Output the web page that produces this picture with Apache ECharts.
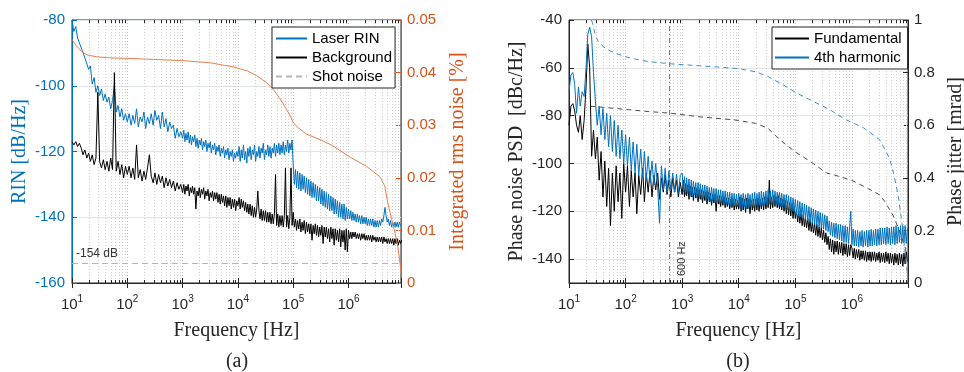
<!DOCTYPE html>
<html>
<head>
<meta charset="utf-8">
<script src="https://cdn.jsdelivr.net/npm/echarts@6/dist/echarts.min.js"></script>
<style>
  html, body { margin: 0; padding: 0; background: #fff; }
  #chart { width: 964px; height: 372px; }
</style>
</head>
<body>
<div id="chart"></div>
<script>
// ---- sampling grid: mantissas used inside each frequency decade ----
const MANT_30 = [1, 1.08, 1.17, 1.26, 1.36, 1.47, 1.58, 1.71, 1.85, 2, 2.15, 2.32, 2.51, 2.71, 2.93, 3.16, 3.41, 3.69, 3.98, 4.3,
  4.64, 5.01, 5.41, 5.84, 6.31, 6.81, 7.36, 7.94, 8.58, 9.26];
const MANT_50 = [1, 1.05, 1.1, 1.15, 1.2, 1.26, 1.32, 1.38, 1.45, 1.51, 1.58, 1.66, 1.74, 1.82, 1.91, 2, 2.09, 2.19, 2.29, 2.4,
  2.51, 2.63, 2.75, 2.88, 3.02, 3.16, 3.31, 3.47, 3.63, 3.8, 3.98, 4.17, 4.37, 4.57, 4.79, 5.01, 5.25, 5.5, 5.75, 6.03,
  6.31, 6.61, 6.92, 7.24, 7.59, 7.94, 8.32, 8.71, 9.12, 9.55];
const DECADES = [[1, MANT_30], [2, MANT_30], [3, MANT_50], [4, MANT_50], [5, MANT_50], [6, MANT_50]];

// ---- (a) relative intensity noise, dB/Hz ----
const LASER_RIN = [
  -80, -83.5, -82, -85.5, -85, -88.5, -88, -91.5, -91, -95, -94, -99.5, -97.5, -102, -100, -103, -101, -104.5, -102.5, -105,
  -103.5, -107, -104.5, -100, -108, -106, -109.5, -107, -110.5, -108.5,
  -111, -108.5, -112, -109, -111.5, -107, -112.5, -109.5, -111, -108, -113, -109.5, -111.5, -108.5, -112, -107.5, -110.5, -109, -113, -108,
  -112.5, -110, -114, -111, -113, -112, -116, -113, -115.5, -114,
  -116, -113.5, -117, -114.5, -116.5, -114, -117.5, -115, -118, -115.5, -117, -115, -118.5, -116, -119, -116.5, -118, -116, -119.5, -117,
  -118.5, -116.5, -120, -117.5, -119, -117, -120.5, -118, -119.5, -117.5, -121, -118.5, -120, -118, -121.5, -119, -120.5, -118.5, -122, -119.5,
  -121, -119, -122.5, -120, -121.5, -119.5, -123, -120.5, -122, -120,
  -121.5, -118.5, -123, -119.5, -122, -118, -122.5, -120, -123.5, -119, -121.5, -118.5, -122.5, -119.5, -121, -118, -123, -120, -121.5, -118.5,
  -122, -119, -120.5, -117.5, -122.5, -119.5, -121, -118, -121.5, -118.5, -122, -119, -120.5, -117.5, -121.5, -118, -120.5, -117.5, -121, -118,
  -120.5, -117, -121, -118, -120, -116.5, -120.5, -117.5, -119.5, -116.5,
  -124, -130, -125.5, -131, -126, -131.5, -126.5, -132, -127, -131.5, -127.5, -132.5, -128, -133, -128.5, -133.5, -129, -134, -129.5, -134,
  -130, -135, -130.5, -135, -131, -136, -131.5, -136.5, -132, -137, -132.5, -137.5, -133, -138, -133.5, -138, -134, -139, -134.5, -139,
  -135, -140, -135.5, -140, -136, -140.5, -136, -141, -137, -140.5,
  -137.5, -140.5, -138, -141, -138.5, -141, -139, -141.5, -139, -141.5, -139.5, -142, -139.5, -142, -140, -142, -140, -142.5, -140.5, -142.5,
  -140.5, -142.5, -140.5, -143, -141, -143, -141, -143, -141, -142.5, -140.5, -141.5, -139.5, -137, -139.5, -141.5, -140.5, -142.5, -141, -143,
  -141.5, -143, -141.5, -143, -141.5, -143, -141.5, -142.5, -142, -143
];
const BACKGROUND = [
  -117, -118, -117, -118.5, -117.5, -119, -121, -119.5, -122, -120.5, -123, -121, -124, -122, -102, -123, -125, -122.5, -125.5, -123,
  -126, -122, -125.5, -96, -126, -123, -127, -124, -128, -124.5,
  -127, -124.5, -128, -125, -128.5, -118, -128, -125.5, -129, -126, -128.5, -125, -121, -127.5, -129.5, -126.5, -130, -127, -129.5, -127.5,
  -131, -128, -130.5, -128.5, -131, -129, -132, -129.5, -131.5, -130,
  -132.5, -130, -133, -130.5, -132, -130, -133.5, -131, -132.5, -130.5, -133, -131, -137.5, -132, -133.5, -131, -134, -131.5, -133, -131,
  -134.5, -132, -133.5, -131.5, -135, -132.5, -134, -132, -135, -132.5, -134.5, -132.5, -135.5, -133, -136, -133, -135.5, -133.5, -136.5, -133.5,
  -137, -134, -136.5, -134, -137.5, -134.5, -137, -134.5, -138, -135,
  -136.5, -134, -137.5, -134.5, -137, -135, -138, -135.5, -138.5, -136, -139, -136, -139.5, -136.5, -140, -137, -140, -137.5, -132, -138,
  -140.5, -137.5, -141, -138, -141, -138, -141.5, -138.5, -141.5, -138.5, -142, -139, -142, -139, -127, -142.5, -139, -143, -139.5, -142.5,
  -139.5, -143, -139.5, -125, -143, -139.5, -143.5, -140, -125, -142.5,
  -138.5, -143, -140.5, -144, -141, -143.5, -140.5, -144.5, -141.5, -144, -141, -145, -141.5, -144.5, -142, -145, -142, -147, -142.5, -145,
  -142, -145.5, -142.5, -146, -143, -145.5, -142.5, -148, -143, -146, -143, -146.5, -143.5, -147.5, -143, -146.5, -143.5, -148.5, -143.5, -147,
  -144, -147.5, -143.5, -149, -144, -147.5, -144, -150, -143.5, -150.5,
  -144, -146.5, -144.5, -146.5, -144.5, -146, -144.5, -146.5, -145, -146.5, -145, -147, -145, -146.5, -145, -147, -145.5, -147, -145.5, -147,
  -145.5, -147.5, -145.5, -147, -146, -147.5, -146, -147.5, -146, -147.5, -146, -148, -146, -147.5, -146.5, -148, -146.5, -148, -146.5, -148,
  -146.5, -148.5, -146.5, -148, -146.5, -148.5, -147, -148, -147, -148
];
const SHOT_NOISE_DB = -154;
// integrated rms noise, %
const RMS_FREQ = [10, 11, 12, 13.5, 15, 17, 20, 28, 50, 100, 300, 900, 3000, 8200, 1.5e4, 2.2e4, 3.3e4, 4.5e4, 5.8e4, 7.6e4,
  9e4, 1e5, 1.2e5, 1.75e5, 3.3e5, 5.2e5, 1e6, 2.1e6, 3.7e6, 4.5e6, 5.2e6, 6e6, 6.9e6, 7.8e6, 8.5e6, 8.9e6];
const RMS_NOISE = [0.0463, 0.0457, 0.0451, 0.0445, 0.044, 0.0436, 0.0433, 0.043, 0.0428, 0.0427, 0.0425, 0.0423, 0.0419, 0.0411,
  0.0403, 0.0394, 0.0381, 0.0366, 0.035, 0.033, 0.0316, 0.0305, 0.0296, 0.0283, 0.0271, 0.0261, 0.0241, 0.0222, 0.0202, 0.0185,
  0.015, 0.0122, 0.0097, 0.0068, 0.004, 0.002];

// ---- (b) phase noise PSD, dBc/Hz ----
const FUNDAMENTAL = [
  -84, -76, -75, -78, -84, -87, -80, -90, -82, -68, -50, -60, -97, -86, -98, -89, -107, -95, -114, -99,
  -118, -102, -126, -104, -120, -101, -116, -104, -123, -100,
  -112, -101, -118, -103, -114, -104, -121, -105, -113, -102, -116, -104, -112, -103, -114, -105, -111, -104, -115, -106,
  -112, -105, -113, -107, -114, -106, -112, -107, -114, -108,
  -113, -107, -114, -108.5, -113.5, -109, -115, -109.5, -114, -110, -115.5, -110, -114.5, -110.5, -116, -111, -115, -111, -116.5, -111.5,
  -115.5, -112, -117, -112, -116, -112.5, -117.5, -113, -116.5, -113, -120, -113.5, -117, -113.5, -118, -114, -117.5, -114, -118.5, -114.5,
  -118, -114.5, -119, -115, -118.5, -115, -119.5, -115, -119, -115.5,
  -119, -114, -120, -114.5, -119.5, -115, -120.5, -114.5, -119, -115, -121, -115.5, -119.5, -115, -120, -115, -119.5, -114.5, -120, -115,
  -119, -114.5, -119.5, -114, -119, -114.5, -118.5, -107, -119, -114, -118.5, -113.5, -118, -114, -118.5, -113.5, -119, -114.5, -119.5, -115,
  -120, -115.5, -121, -116, -121.5, -116.5, -122, -117, -123, -118,
  -123, -119.5, -124.5, -120, -125, -121, -126, -121.5, -126.5, -122.5, -127, -123, -128, -123.5, -128.5, -124.5, -129, -125, -130, -125.5,
  -130.5, -126.5, -131, -127, -132, -128, -133, -129, -134, -130.5, -136, -131.5, -137, -132, -138, -132.5, -137, -132.5, -138, -133,
  -137.5, -133, -138.5, -133.5, -138, -133.5, -139, -134, -138.5, -134,
  -135.5, -139.5, -135.5, -140, -136, -139.5, -136, -140.5, -136.5, -140, -136.5, -140.5, -136.5, -141, -137, -140.5, -137, -141, -137, -140.5,
  -137, -141, -137.5, -140.5, -137, -141.5, -137.5, -141, -137.5, -141.5, -137, -141, -137.5, -142, -137.5, -141.5, -138, -142.5, -137.5, -141.5,
  -138, -142.5, -137.5, -142, -138, -143, -137.5, -142, -137, -141
];
const HARMONIC_4 = [
  -70, -63, -62, -67, -79, -68, -76, -70, -72, -60, -46, -43, -47, -62, -74, -84, -76, -88, -77, -90,
  -79, -93, -80, -95, -82, -97, -84, -98, -86, -100,
  -88, -101, -89, -103, -91, -104, -92, -105, -94, -106, -95, -107, -97, -108, -99, -109, -100, -110, -125, -101,
  -111, -102, -112, -103, -111, -104, -112, -104.5, -112.5, -105,
  -104, -112, -105.5, -113, -106, -112.5, -106.5, -113.5, -107, -114, -107.5, -113, -108, -114.5, -108, -114, -108.5, -115, -109, -114.5,
  -109, -115.5, -109.5, -115, -110, -116, -110, -115.5, -110.5, -116.5, -110.5, -116, -111, -117, -111, -116.5, -111.5, -117, -111.5, -117.5,
  -112, -117, -112, -118, -112.5, -117.5, -112.5, -118, -113, -118,
  -112.5, -118.5, -113, -119, -112.5, -118, -113, -119, -112.5, -118.5, -113, -118, -112.5, -118.5, -112, -118, -112.5, -117.5, -112, -118,
  -111.5, -117.5, -112, -117, -111.5, -117.5, -111, -117, -111.5, -117, -111, -117.5, -111.5, -117, -112, -117.5, -112, -118, -112.5, -118,
  -113, -118.5, -113, -119, -113.5, -119.5, -114, -120, -114.5, -120,
  -115, -121.5, -115.5, -122, -116, -122.5, -116.5, -123, -117, -123.5, -117.5, -124, -118, -124.5, -118.5, -125, -119, -125.5, -119.5, -126,
  -120, -126.5, -120.5, -127, -121, -127.5, -121.5, -128, -122, -128.5, -124, -130, -124.5, -130.5, -125, -131, -125, -131.5, -125.5, -132,
  -125.5, -132.5, -126, -133, -126, -133, -126.5, -133.5, -126.5, -120,
  -134, -127.5, -134.5, -128, -134.5, -128, -135, -128.5, -134.5, -128, -135, -128.5, -134.5, -128, -135, -128, -134.5, -127.5, -134.5, -128,
  -134, -127.5, -134.5, -127.5, -134, -127, -134, -127, -133.5, -127, -134, -126.5, -133.5, -127, -134, -126.5, -133.5, -126.5, -134, -126,
  -133.5, -126.5, -133, -126, -133.5, -126, -133, -126, -133.5, -127
];
const MARKER_HZ = 600;
// integrated phase jitter, mrad
const JIT_FUND_FREQ = [24, 40, 100, 250, 600, 2000, 8500, 2e4, 3.3e4, 5e4, 1e5, 1.7e5, 3.6e5, 5e5, 1e6, 1.9e6, 3.1e6, 3.8e6, 5.3e6,
  6.6e6, 8.8e6, 9.8e6];
const JIT_FUND = [0.672, 0.668, 0.66, 0.652, 0.646, 0.632, 0.62, 0.607, 0.588, 0.55, 0.498, 0.467, 0.418, 0.41, 0.39, 0.36, 0.335,
  0.31, 0.258, 0.21, 0.133, 0.07];
const JIT_HARM_FREQ = [25, 27, 29, 33, 40, 49, 70, 97, 150, 250, 650, 2000, 5000, 1e4, 2e4, 3.3e4, 5.4e4, 1.06e5, 2.1e5, 4e5,
  8e5, 1.6e6, 3.1e6, 4.6e6, 5.5e6, 6.6e6, 7.8e6, 9e6, 9.8e6];
const JIT_HARM = [1.0, 0.975, 0.945, 0.917, 0.9, 0.886, 0.872, 0.861, 0.851, 0.842, 0.833, 0.826, 0.82, 0.815, 0.803, 0.785, 0.76,
  0.722, 0.69, 0.66, 0.62, 0.59, 0.545, 0.475, 0.415, 0.33, 0.215, 0.085, 0.02];

// ---- styling ----
const SANS = "'Liberation Sans', Arial, Helvetica, sans-serif";
const SERIF = "'Liberation Serif', 'Times New Roman', serif";
const INK = '#262626';
const BLUE = '#0072BD';
const ORANGE = '#D95319';
const X_MAX_A = 8.9e6;
const X_MAX_B = 9.8e6;

const FREQ = DECADES.flatMap(([e, mant]) => mant.map(m => +(m * Math.pow(10, e)).toPrecision(4)));
const onGrid = vals => FREQ.map((f, i) => [f, vals[i]]);
const zip = (xs, ys) => xs.map((x, i) => [x, ys[i]]);

function minorFreqs(max) {
  const out = [];
  for (let e = 1; e <= 6; e++) for (let m = 2; m <= 9; m++) { const f = m * Math.pow(10, e); if (f < max) out.push(f); }
  return out;
}

function logLabel(v) {
  const e = Math.log10(v), r = Math.round(e);
  return Math.abs(e - r) < 1e-6 ? '{b|10}{e|' + r + '}' : '';
}

// dotted minor grid plus short inward ticks top and bottom
function minorGridItem(params, api) {
  const cs = params.coordSys;
  const x = Math.round(api.coord([api.value(0), api.value(1)])[0]) + 0.5;
  if (x <= cs.x + 1 || x >= cs.x + cs.width - 1) return null;
  const y0 = cs.y, y1 = cs.y + cs.height;
  return {
    type: 'group',
    children: [
      { type: 'line', shape: { x1: x, y1: y0, x2: x, y2: y1 }, style: { stroke: '#cfcfcf', lineWidth: 1, lineDash: [1, 2] } },
      { type: 'line', shape: { x1: x, y1: y1, x2: x, y2: y1 - 3 }, style: { stroke: INK, lineWidth: 1 } },
      { type: 'line', shape: { x1: x, y1: y0, x2: x, y2: y0 + 3 }, style: { stroke: INK, lineWidth: 1 } }
    ]
  };
}

function xAxisPair(gridIndex, max) {
  return [
    {
      type: 'log', logBase: 10, gridIndex, min: 10, max, position: 'bottom',
      axisLine: { onZero: false, lineStyle: { color: INK } },
      axisTick: { inside: true, length: 5, lineStyle: { color: INK } },
      axisLabel: {
        formatter: logLabel, margin: 11, color: INK,
        rich: {
          b: { fontSize: 15, lineHeight: 22, fontFamily: SANS, color: INK },
          e: { fontSize: 10, lineHeight: 11, verticalAlign: 'top', fontFamily: SANS, color: INK }
        }
      },
      splitLine: { show: true, lineStyle: { color: '#c2c2c2', type: [1, 2] } },
      name: 'Frequency [Hz]', nameLocation: 'middle', nameGap: 38,
      nameTextStyle: { fontFamily: SERIF, fontSize: 20, color: INK }
    },
    {
      type: 'log', logBase: 10, gridIndex, min: 10, max, position: 'top',
      axisLine: { show: false },
      axisTick: { inside: true, length: 5, lineStyle: { color: INK } },
      axisLabel: { show: false }, splitLine: { show: false }
    }
  ];
}

function yAxis(opts) {
  const { gridIndex, position, color, name, nameGap, gridColor } = opts;
  return Object.assign({
    type: 'value', gridIndex, position,
    axisLine: { show: true, lineStyle: { color } },
    axisTick: { show: true, inside: true, length: 5, lineStyle: { color } },
    axisLabel: { color, fontSize: 15, fontFamily: SANS, margin: 7 },
    splitLine: { show: !!gridColor, lineStyle: { color: gridColor || '#eee' } },
    name, nameLocation: 'middle', nameGap,
    nameTextStyle: { color, fontFamily: SERIF, fontSize: 20 }
  }, opts.extra || {});
}

const lineSeries = (name, data, color, extra) => Object.assign({
  name, type: 'line', data, symbol: 'none', showSymbol: false, sampling: null,
  lineStyle: { color, width: 1 }, itemStyle: { color }, emphasis: { disabled: true }, silent: true
}, extra || {});

const legendBase = {
  orient: 'vertical', itemHeight: 14, itemGap: 4,
  backgroundColor: '#fff', borderColor: INK, borderWidth: 1, selectedMode: false,
  itemStyle: { opacity: 0 },
  textStyle: { fontSize: 15, fontFamily: SANS, color: '#000' }
};

const chart = echarts.init(document.getElementById('chart'), null, { renderer: 'canvas' });

chart.setOption({
  animation: false,
  backgroundColor: '#ffffff',
  textStyle: { fontFamily: SANS },
  grid: [
    { left: 72, top: 20, width: 329, height: 263, show: true, borderColor: INK, borderWidth: 1,
      containLabel: false, outerBoundsMode: 'none' },
    { left: 569, top: 20, width: 339, height: 263, show: true, borderColor: INK, borderWidth: 1,
      containLabel: false, outerBoundsMode: 'none' }
  ],
  xAxis: [...xAxisPair(0, X_MAX_A), ...xAxisPair(1, X_MAX_B)],
  yAxis: [
    yAxis({ gridIndex: 0, position: 'left', color: BLUE, name: 'RIN [dB/Hz]', nameGap: 42, gridColor: '#dfe4ec',
      extra: { min: -160, max: -80, interval: 20 } }),
    yAxis({ gridIndex: 0, position: 'right', color: ORANGE, name: 'Integrated rms noise [%]', nameGap: 47,
      extra: { min: 0, max: 0.05, interval: 0.01,
        axisLabel: { color: ORANGE, fontSize: 15, fontFamily: SANS, margin: 6, formatter: v => v === 0 ? '0' : v.toFixed(2) } } }),
    yAxis({ gridIndex: 1, position: 'left', color: INK, name: 'Phase noise PSD  [dBc/Hz]', nameGap: 42, gridColor: '#e4e4e4',
      extra: { min: -150, max: -40, splitNumber: 5,
        axisLabel: { color: INK, fontSize: 15, fontFamily: SANS, margin: 7, formatter: v => (v % 20 === 0 ? String(v) : '') } } }),
    yAxis({ gridIndex: 1, position: 'right', color: INK, name: 'Phase jitter [mrad]', nameGap: 38,
      extra: { min: 0, max: 1, interval: 0.2,
        axisLabel: { color: INK, fontSize: 15, fontFamily: SANS, margin: 6, formatter: v => v === 0 ? '0' : String(+v.toFixed(1)) } } })
  ],
  legend: [
    Object.assign({}, legendBase, {
      data: ['Laser RIN', 'Background', 'Shot noise'], left: 272, top: 27,
      itemWidth: 31, padding: [4, 3, 4, 3]
    }),
    Object.assign({}, legendBase, {
      data: ['Fundamental', '4th harmonic'], left: 772, top: 27,
      itemWidth: 34, padding: [4, 6, 4, 2]
    })
  ],
  series: [
    // ---- (a) ----
    { type: 'custom', xAxisIndex: 0, yAxisIndex: 0, silent: true, z: 1, clip: false,
      data: minorFreqs(X_MAX_A).map(f => [f, -160]), renderItem: minorGridItem },
    lineSeries('Laser RIN', onGrid(LASER_RIN), BLUE, { xAxisIndex: 0, yAxisIndex: 0 }),
    lineSeries('Background', onGrid(BACKGROUND), '#000', { xAxisIndex: 0, yAxisIndex: 0 }),
    lineSeries('Shot noise', [], '#b5b5b5', {
      xAxisIndex: 0, yAxisIndex: 0, lineStyle: { color: '#b5b5b5', width: 1, type: [6, 4] },
      markLine: {
        silent: true, symbol: ['none', 'none'], animation: false,
        lineStyle: { color: '#b5b5b5', width: 1, type: [6, 4] },
        label: { show: true, position: 'insideStartTop', formatter: SHOT_NOISE_DB + ' dB',
          color: '#333', fontSize: 12, fontFamily: SANS, distance: 4 },
        data: [{ yAxis: SHOT_NOISE_DB }]
      }
    }),
    lineSeries('Integrated rms noise', zip(RMS_FREQ, RMS_NOISE), '#EE7E4E', { xAxisIndex: 0, yAxisIndex: 1 }),
    // ---- (b) ----
    { type: 'custom', xAxisIndex: 2, yAxisIndex: 2, silent: true, z: 1, clip: false,
      data: minorFreqs(X_MAX_B).map(f => [f, -150]), renderItem: minorGridItem },
    lineSeries('Fundamental', onGrid(FUNDAMENTAL), '#000', { xAxisIndex: 2, yAxisIndex: 2 }),
    lineSeries('4th harmonic', onGrid(HARMONIC_4), BLUE, { xAxisIndex: 2, yAxisIndex: 2 }),
    lineSeries('Fundamental jitter', zip(JIT_FUND_FREQ, JIT_FUND), '#4d4d4d', {
      xAxisIndex: 2, yAxisIndex: 3, lineStyle: { color: '#4d4d4d', width: 1, type: [5, 4] } }),
    lineSeries('4th harmonic jitter', zip(JIT_HARM_FREQ, JIT_HARM), '#3d8fd0', {
      xAxisIndex: 2, yAxisIndex: 3, lineStyle: { color: '#3d8fd0', width: 1, type: [5, 4] } }),
    lineSeries('marker', [], '#777', {
      xAxisIndex: 2, yAxisIndex: 2,
      markLine: {
        silent: true, symbol: ['none', 'none'], animation: false,
        lineStyle: { color: '#7a7a7a', width: 1, type: [5, 3, 1, 3] },
        label: { show: true, position: 'insideStartBottom', formatter: MARKER_HZ + ' Hz',
          color: '#333', fontSize: 11, fontFamily: SANS, distance: 7 },
        data: [{ xAxis: MARKER_HZ }]
      }
    })
  ],
  graphic: [
    { type: 'text', x: 237, y: 362, silent: true,
      style: { text: '(a)', align: 'center', verticalAlign: 'middle', fontSize: 20, fontFamily: SERIF, fill: INK } },
    { type: 'text', x: 738, y: 362, silent: true,
      style: { text: '(b)', align: 'center', verticalAlign: 'middle', fontSize: 20, fontFamily: SERIF, fill: INK } }
  ]
});
</script>
</body>
</html>
